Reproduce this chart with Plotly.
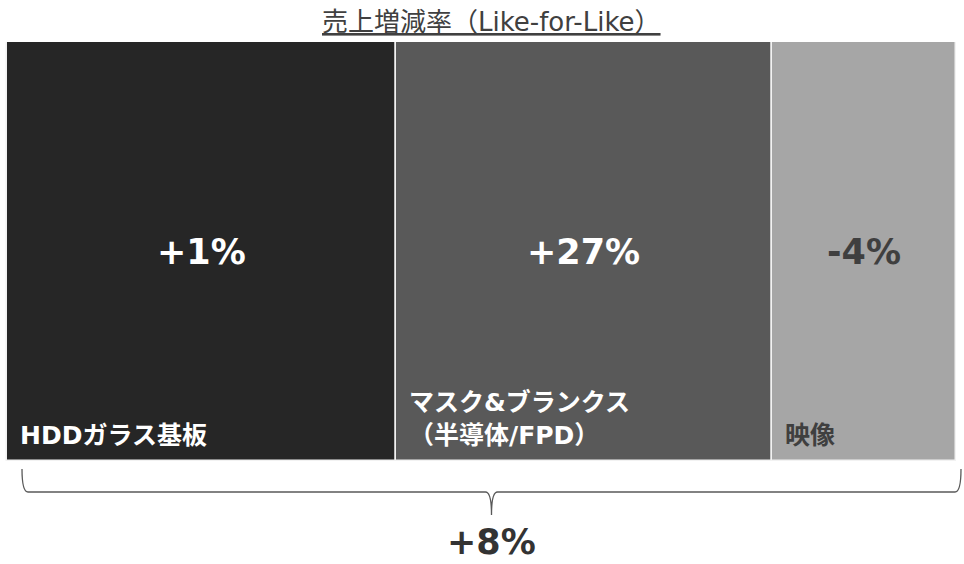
import plotly.graph_objects as go

# Segment data: sales share (width of each column) and like-for-like growth
segments = ["HDDガラス基板", "マスク&ブランクス<br>（半導体/FPD）", "映像"]
share = [41.0, 39.6, 19.4]
growth = [1, 27, -4]
total_growth = 8
bar_colors = ["#262626", "#595959", "#a6a6a6"]
text_colors = ["#ffffff", "#ffffff", "#3f3f3f"]

W, H = 964, 564
FONT = "DejaVu Sans, Noto Sans CJK JP, sans-serif"

total = sum(share)
# pixel geometry of plot area
left_px, right_px = 7, 956
top_px, bottom_px = 42, 461
ppu = (right_px - left_px) / total  # pixels per share unit
x_range = [-left_px / ppu, total + (W - right_px) / ppu]
y_dom = [(H - bottom_px) / H, (H - top_px) / H]
span_px = bottom_px - top_px


def py(p):
    """paper y for a pixel row"""
    return (H - p) / H


starts = []
acc = 0.0
for s in share:
    starts.append(acc)
    acc += s
centers = [st + s / 2 for st, s in zip(starts, share)]

fig = go.Figure()
fig.add_trace(go.Bar(
    x=centers, y=[1] * len(share), width=share,
    marker=dict(color=bar_colors, line=dict(color="#f2f2f2", width=1.5)),
    hoverinfo="skip",
))

ann = []
for c, st, g, lab, tc in zip(centers, starts, growth, segments, text_colors):
    ann.append(dict(
        x=c, y=0.5, xref="x", yref="y",
        text=f"<b>{g:+d}%</b>", showarrow=False,
        xanchor="center", yanchor="middle",
        font=dict(family=FONT, size=35, color=tc),
    ))
    ann.append(dict(
        x=st + 11 / ppu, y=(bottom_px - 452) / span_px, xref="x", yref="y",
        text=f"<b>{lab}</b>", showarrow=False,
        xanchor="left", yanchor="bottom", align="left",
        font=dict(family=FONT, size=25, color=tc),
    ))

# Brace spanning all segments
bx0 = 15 / ppu
bx1 = total + 5 / ppu
bxc = (bx0 + bx1) / 2

# Title
ann.append(dict(
    x=bxc, y=py(22), xref="x", yref="paper",
    text="売上増減率（Like-for-Like）", showarrow=False,
    xanchor="center", yanchor="middle",
    font=dict(family=FONT, size=26, color="#404040", lineposition="under"),
))

d = 6 / ppu
path = (
    f"M {bx0},{py(469)} Q {bx0},{py(492)} {bx0 + d},{py(492)} "
    f"L {bxc - d},{py(492)} Q {bxc},{py(492)} {bxc},{py(515)} "
    f"Q {bxc},{py(492)} {bxc + d},{py(492)} "
    f"L {bx1 - d},{py(492)} Q {bx1},{py(492)} {bx1},{py(469)}"
)
shapes = [dict(type="path", path=path, xref="x", yref="paper",
               line=dict(color="#595959", width=1.3))]

# Overall growth under the brace
ann.append(dict(
    x=bxc, y=0, xref="x", yref="paper",
    text=f"<b>{total_growth:+d}%</b>", showarrow=False,
    xanchor="center", yanchor="bottom",
    font=dict(family=FONT, size=35, color="#333333"),
))

fig.update_layout(
    width=W, height=H,
    margin=dict(l=0, r=0, t=0, b=0),
    paper_bgcolor="white", plot_bgcolor="white",
    showlegend=False,
    xaxis=dict(range=x_range, visible=False, fixedrange=True),
    yaxis=dict(range=[0, 1], domain=y_dom, visible=False, fixedrange=True),
    annotations=ann, shapes=shapes,
    bargap=0,
)

fig.write_html("out.html")
